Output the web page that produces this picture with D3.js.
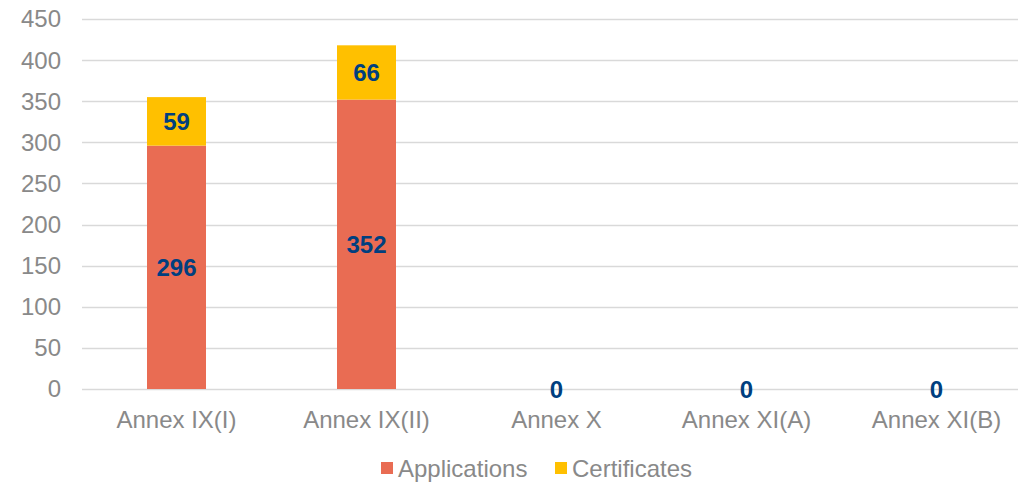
<!DOCTYPE html>
<html>
<head>
<meta charset="utf-8">
<script src="https://cdn.jsdelivr.net/npm/d3@7"></script>
<style>
  body { margin: 0; background: #fff; }
  svg text { font-family: "Liberation Sans", Arial, sans-serif; }
</style>
</head>
<body>
<div id="chart"></div>
<script>
// chart data
const categories = ["Annex IX(I)", "Annex IX(II)", "Annex X", "Annex XI(A)", "Annex XI(B)"];
const applications = [296, 352, 0, 0, 0];
const certificates = [59, 66, 0, 0, 0];
const seriesNames = ["Applications", "Certificates"];
const yTicks = [0, 50, 100, 150, 200, 250, 300, 350, 400, 450];

const width = 1018, height = 482;
const colors = ["#E96C53", "#FFC000"];

const svg = d3.select("#chart").append("svg")
  .attr("width", width).attr("height", height);

const x = d3.scaleBand().domain(categories).range([81.5, 1031.5]).paddingInner(0.69).paddingOuter(0.345);
const y = d3.scaleLinear().domain([0, 450]).range([389, 19]);

// gridlines
svg.append("g").selectAll("line").data(yTicks).enter().append("line")
  .attr("x1", 82).attr("x2", width)
  .attr("y1", d => Math.round(y(d)) + 0.5).attr("y2", d => Math.round(y(d)) + 0.5)
  .attr("stroke", "#d9d9d9").attr("stroke-width", 1.3);

// y labels
svg.append("g").selectAll("text").data(yTicks).enter().append("text")
  .attr("x", 61).attr("y", d => y(d)).attr("dy", "0.35em")
  .attr("text-anchor", "end").attr("font-size", 24).attr("fill", "#898989")
  .text(d => d);

// stacked data
const rows = categories.map((c, i) => ({ cat: c, Applications: applications[i], Certificates: certificates[i] }));
const stacked = d3.stack().keys(seriesNames)(rows);

const bw = 59;
stacked.forEach((s, si) => {
  const g = svg.append("g");
  g.selectAll("rect").data(s).enter().append("rect")
    .attr("x", d => x(d.data.cat) + x.bandwidth() / 2 - bw / 2)
    .attr("width", bw)
    .attr("y", d => y(d[1]))
    .attr("height", d => y(d[0]) - y(d[1]))
    .attr("fill", colors[si]);
});

// data labels: segment values, zero totals shown once at baseline
stacked.forEach((s, si) => {
  svg.append("g").selectAll("text").data(s.filter(d => si === 0 || d[1] - d[0] > 0)).enter().append("text")
    .attr("x", d => x(d.data.cat) + x.bandwidth() / 2)
    .attr("y", d => (y(d[0]) + y(d[1])) / 2)
    .attr("dy", "0.36em")
    .attr("text-anchor", "middle")
    .attr("font-size", 24).attr("font-weight", "bold").attr("fill", "#003F7F")
    .text(d => d[1] - d[0]);
});

// category labels
svg.append("g").selectAll("text").data(categories).enter().append("text")
  .attr("x", d => x(d) + x.bandwidth() / 2).attr("y", 428)
  .attr("text-anchor", "middle").attr("font-size", 24).attr("fill", "#898989")
  .text(d => d);

// legend
const legend = svg.append("g");
const lx = [381, 555];
seriesNames.forEach((n, i) => {
  legend.append("rect").attr("x", lx[i]).attr("y", 462).attr("width", 12).attr("height", 12).attr("fill", colors[i]);
  legend.append("text").attr("x", lx[i] + 17).attr("y", 477)
    .attr("font-size", 24).attr("fill", "#898989").text(n);
});
</script>
</body>
</html>
